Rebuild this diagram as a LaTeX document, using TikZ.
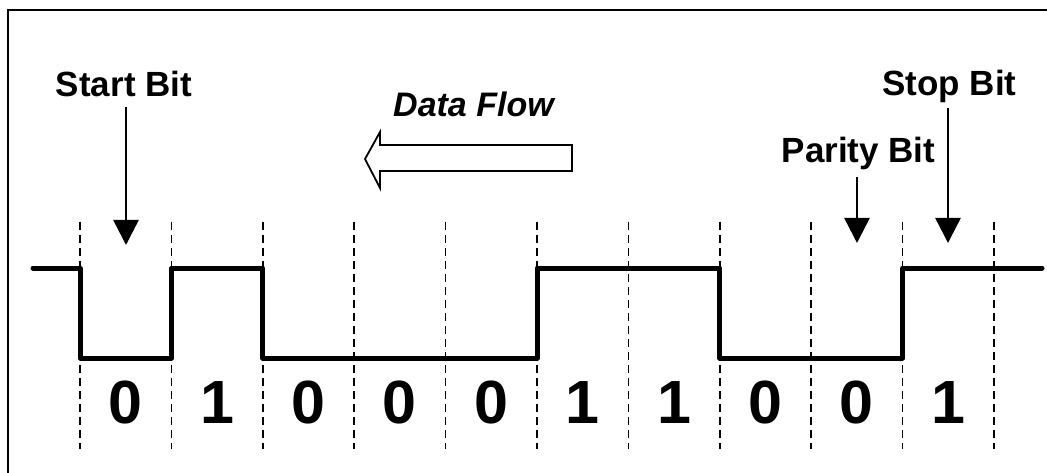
\documentclass[tikz,border=0pt]{standalone}
\usepackage{fontspec}
\setmainfont{Liberation Sans}
\usetikzlibrary{arrows.meta}
\begin{document}
\begin{tikzpicture}[x=1pt,y=-1pt,
  lbl/.style={font=\fontsize{35}{40}\selectfont\bfseries, inner sep=0pt, anchor=base},
  flowlbl/.style={font=\fontsize{34}{40}\selectfont\bfseries\itshape, inner sep=0pt, anchor=base},
  digit/.style={font=\fontsize{61}{66}\selectfont\bfseries, inner sep=0pt, anchor=base},
  grid/.style={line width=1.6pt, dash pattern=on 8pt off 5pt},
  signal/.style={line width=5pt, line join=round, line cap=round},
  pointer/.style={line width=2.5pt, -{Triangle[length=25pt,width=25pt]}},
  frame/.style={line width=2.5pt}]
\useasboundingbox (0,0) rectangle (1047,473);
\fill[white] (0,0) rectangle (1047,473);
% frame
\coordinate (fbl) at (8,480);
\coordinate (ftl) at (8,10);
\coordinate (ftr) at (1050,10);
\draw[frame] (fbl) -- (ftl) -- (ftr);
% dashed grid
\foreach \i in {0,...,10} {
  \coordinate (gt\i) at ({80+91.4*\i},222);
  \coordinate (gb\i) at ({80+91.4*\i},449);
  \draw[grid] (gt\i) -- (gb\i);
}
% signal
\def\hi{268}
\def\lo{358}
\coordinate (s0) at (33,\hi);
\draw[signal] (s0) -- (80,\hi) -- (80,\lo) -- (171.4,\lo) -- (171.4,\hi) -- (262.8,\hi) -- (262.8,\lo)
  -- (537,\lo) -- (537,\hi) -- (719.8,\hi) -- (719.8,\lo) -- (902.6,\lo) -- (902.6,\hi) -- (1042,\hi);
% digits
\foreach \d [count=\k from 0] in {0,1,0,0,0,1,1,0,0,1} {
  \node[digit] (d\k) at ({80+91.4*\k+45.7},423) {\d};
}
% labels
\node[lbl] (start) at (124,97) {Start Bit};
\node[lbl] (stop) at (949.5,96) {Stop Bit};
\node[lbl] (parity) at (858.5,163) {Parity Bit};
\node[flowlbl] (flow) at (473.5,117) {Data Flow};
% pointer arrows
\coordinate (sa1) at (126,107);
\coordinate (sa2) at (126,245);
\draw[pointer] (sa1) -- (sa2);
\coordinate (pa1) at (857,177);
\coordinate (pa2) at (857,243);
\draw[pointer] (pa1) -- (pa2);
\coordinate (ta1) at (948,108);
\coordinate (ta2) at (948,243);
\draw[pointer] (ta1) -- (ta2);
% block arrow
\draw[line width=1.8pt, line join=miter] (365,159) -- (380,132) -- (380,145) -- (572,145) -- (572,171) -- (380,171) -- (380,188) -- cycle;
\end{tikzpicture}
\end{document}
